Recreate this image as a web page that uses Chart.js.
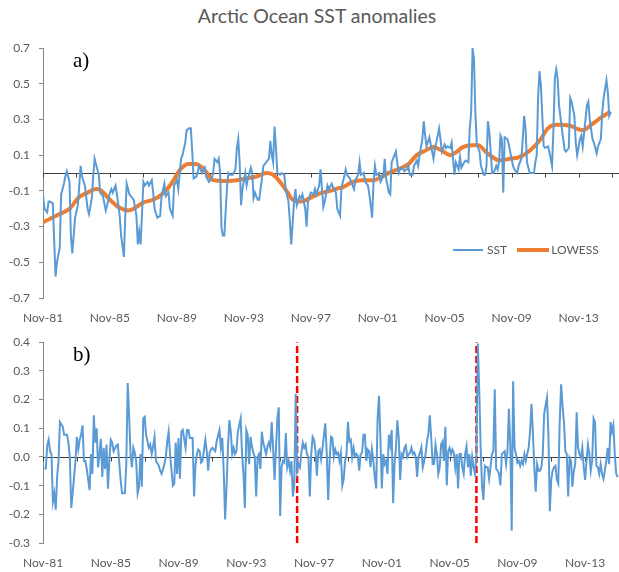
<!DOCTYPE html>
<html>
<head>
<meta charset="utf-8">
<script src="https://cdn.jsdelivr.net/npm/chart.js@4.4.1/dist/chart.umd.min.js"></script>
<style>
  body { margin: 0; background: #fff; }
  #wrap { position: relative; width: 619px; height: 572px; font-family: Lato, sans-serif; overflow: hidden; }
  canvas { position: absolute; left: 0; }
  #topChart { top: 0; }
  #bottomChart { top: 326px; }
  .title { position: absolute; top: 4px; left: 0; width: 634px; text-align: center; font-size: 19.5px; color: #595959; }
  .panel { position: absolute; left: 73px; font-family: 'Liberation Serif', serif; font-size: 21px; color: #000; }
  .legend { position: absolute; top: 241px; left: 453px; font-size: 12px; color: #595959; white-space: nowrap; }
  .legend span { display: inline-block; vertical-align: middle; }
  .swatch { width: 30px; margin-right: 4px; }
</style>
</head>
<body>
<div id="wrap">
  <div class="title">Arctic Ocean SST anomalies</div>
  <canvas id="topChart" width="619" height="326"></canvas>
  <canvas id="bottomChart" width="619" height="246"></canvas>
  <div class="panel" style="top:48px">a)</div>
  <div class="panel" style="top:342px">b)</div>
  <div class="legend">
    <span class="swatch" style="border-top:2px solid #5B9BD5"></span><span>SST</span>
    <span class="swatch" style="border-top:4px solid #ED7D31; margin-left:7px; width:32px; margin-right:2px"></span><span>LOWESS</span>
  </div>
</div>
<script>
// months counted from Nov-1981
const tickMonths = [0, 48, 96, 144, 192, 240, 288, 336, 384];
const tickLabels = ['Nov-81', 'Nov-85', 'Nov-89', 'Nov-93', 'Nov-97', 'Nov-01', 'Nov-05', 'Nov-09', 'Nov-13'];
const minorTicks = [0, 24, 48, 72, 96, 120, 144, 168, 192, 216, 240, 264, 288, 312, 336, 360, 384, 408];
const breakMonths = [180, 307];

// [month, anomaly]
const sst = [
  [0,-0.12],[1,-0.20],[3,-0.22],[4,-0.16],[5,-0.16],[7,-0.17],[9,-0.58],[10,-0.50],[12,-0.42],[13,-0.12],
  [15,-0.06],[16,-0.02],[17,0.01],[19,-0.05],[20,-0.35],[21,-0.45],[23,-0.25],[25,-0.18],[26,-0.07],[27,0.04],
  [28,-0.02],[30,-0.07],[32,-0.20],[33,-0.23],[35,-0.14],[36,-0.02],[37,0.08],[39,0.02],[40,-0.01],[41,-0.11],
  [43,-0.13],[45,-0.21],[46,-0.18],[48,-0.11],[49,-0.09],[50,-0.11],[52,-0.07],[53,-0.12],[55,-0.24],[56,-0.35],
  [58,-0.47],[59,-0.24],[60,-0.06],[62,-0.12],[64,-0.14],[65,-0.15],[67,-0.24],[68,-0.40],[69,-0.33],[70,-0.40],
  [72,-0.05],[73,-0.07],[75,-0.05],[76,-0.07],[78,-0.04],[79,-0.11],[80,-0.20],[82,-0.25],[84,-0.24],[85,-0.13],
  [87,-0.06],[88,-0.13],[90,-0.11],[91,-0.20],[93,-0.24],[94,-0.07],[96,-0.04],[97,-0.09],[99,0.08],[100,0.10],
  [102,0.17],[103,0.24],[105,0.25],[106,0.25],[107,0.12],[108,-0.03],[110,-0.02],[111,0.01],[112,0.04],[114,0.00],
  [116,0.03],[117,-0.02],[119,-0.05],[121,-0.03],[122,0.00],[123,0.08],[125,0.06],[126,0.08],[127,0.00],[128,-0.31],
  [129,-0.35],[130,-0.35],[132,-0.07],[133,0.00],[134,-0.01],[136,-0.01],[138,0.02],[139,0.14],[140,0.19],[141,0.06],
  [142,-0.18],[143,-0.09],[145,0.00],[146,-0.07],[147,-0.03],[149,0.03],[150,0.00],[151,-0.14],[152,-0.11],[154,-0.15],
  [155,-0.15],[157,-0.03],[158,0.04],[160,0.06],[162,0.08],[163,0.18],[164,0.10],[165,0.06],[166,0.26],[167,0.15],
  [168,0.00],[170,-0.01],[171,0.00],[173,-0.01],[174,-0.09],[176,-0.16],[177,-0.27],[178,-0.40],[180,-0.16],[181,-0.09],
  [182,-0.18],[184,-0.13],[185,-0.14],[186,-0.12],[188,-0.20],[189,-0.30],[190,-0.16],[192,-0.11],[194,-0.12],[195,-0.09],
  [196,-0.12],[198,-0.07],[199,0.02],[201,-0.19],[202,-0.16],[204,-0.07],[205,-0.09],[207,-0.06],[208,-0.08],[210,-0.11],
  [211,-0.20],[213,-0.24],[214,-0.08],[216,-0.02],[217,0.02],[218,-0.01],[220,-0.03],[221,-0.05],[223,-0.09],[224,-0.04],
  [226,-0.01],[227,0.06],[228,-0.01],[230,0.00],[231,-0.05],[233,-0.07],[234,-0.12],[236,-0.25],[237,-0.05],[238,0.04],
  [239,-0.01],[241,0.00],[242,-0.05],[244,-0.02],[245,0.08],[246,-0.03],[248,-0.11],[249,-0.12],[250,0.06],[252,0.10],
  [253,0.12],[255,0.00],[256,0.02],[258,0.03],[259,0.01],[261,0.02],[262,0.04],[263,-0.01],[265,-0.01],[266,0.04],
  [268,0.07],[269,0.04],[270,0.10],[272,0.19],[273,0.29],[274,0.21],[275,0.15],[277,0.20],[278,0.16],[280,0.08],
  [281,0.14],[282,0.17],[284,0.25],[285,0.19],[286,0.12],[288,0.16],[289,0.14],[290,0.15],[292,0.14],[293,0.17],
  [295,-0.01],[296,0.06],[298,0.02],[299,0.09],[300,0.03],[302,0.06],[303,0.07],[305,0.06],[306,0.25],[307,0.34],
  [308,0.70],[309,0.64],[310,0.34],[311,0.17],[312,0.14],[313,0.12],[314,0.04],[316,-0.01],[317,-0.01],[318,0.04],
  [319,0.29],[320,0.23],[321,0.12],[322,0.00],[323,0.00],[325,0.04],[326,0.02],[327,0.06],[328,0.21],[329,0.19],
  [330,-0.11],[331,0.20],[333,0.19],[334,0.16],[335,0.12],[337,0.04],[338,0.02],[340,0.00],[341,0.04],[343,0.08],
  [344,0.19],[345,0.32],[346,0.25],[347,0.06],[349,0.00],[350,0.00],[352,0.00],[353,0.06],[354,0.10],[355,0.43],
  [356,0.57],[357,0.49],[359,0.15],[360,0.14],[362,0.15],[363,0.12],[365,0.04],[366,0.25],[367,0.53],[368,0.58],
  [369,0.53],[370,0.38],[372,0.25],[373,0.19],[374,0.13],[375,0.12],[377,0.14],[378,0.42],[379,0.40],[381,0.32],
  [382,0.17],[383,0.10],[385,0.19],[386,0.21],[387,0.15],[389,0.30],[390,0.38],[391,0.40],[392,0.30],[394,0.19],
  [395,0.17],[396,0.14],[397,0.11],[398,0.15],[400,0.19],[401,0.34],[402,0.42],[404,0.52],[405,0.45],[406,0.32],
  [407,0.34]
];

const lowess = [
  [0,-0.275],[12,-0.23],[19,-0.20],[26,-0.135],[32,-0.11],[38,-0.09],[42,-0.10],[48,-0.15],[55,-0.195],[61,-0.21],
  [65,-0.20],[72,-0.165],[79,-0.15],[86,-0.115],[92,-0.06],[98,0.015],[104,0.05],[109,0.05],[115,0.025],[122,-0.04],
  [129,-0.045],[139,-0.04],[146,-0.03],[153,-0.02],[160,0.00],[165,-0.01],[170,-0.05],[175,-0.105],[179,-0.15],[184,-0.16],
  [189,-0.15],[194,-0.13],[198,-0.115],[206,-0.10],[212,-0.085],[215,-0.08],[222,-0.05],[229,-0.04],[237,-0.04],[243,-0.02],
  [249,0.005],[256,0.025],[262,0.05],[268,0.10],[274,0.125],[280,0.145],[286,0.125],[292,0.10],[296,0.115],[301,0.145],
  [308,0.155],[312,0.155],[318,0.115],[323,0.085],[327,0.07],[335,0.08],[342,0.09],[349,0.125],[356,0.18],[362,0.25],
  [368,0.27],[378,0.265],[382,0.25],[387,0.24],[394,0.275],[400,0.31],[407,0.345]
];

// panel b series
const panelB = [
  [1,-0.04],[2,-0.04],[3,0.04],[4,0.06],[5,0.02],[6,0.01],[7,-0.155],[8,-0.127],[9,-0.184],[10,-0.07],
  [11,-0.014],[12,0.122],[14,0.105],[15,0.077],[17,0.077],[18,0.05],[19,0],[20,-0.178],[21,-0.127],[23,-0.014],
  [24,0.07],[25,0.026],[26,0.06],[27,0.077],[28,0.11],[29,-0.014],[30,-0.014],[31,-0.042],[33,-0.116],[34,0.01],
  [35,-0.059],[36,0.145],[37,0.05],[38,0.10],[39,-0.036],[40,0.01],[41,0.063],[42,-0.07],[43,0.032],[44,-0.042],
  [45,0.043],[46,-0.111],[47,-0.014],[48,0.06],[49,0.05],[50,0.02],[52,0.04],[53,0.043],[54,-0.02],[55,-0.08],
  [56,-0.127],[58,-0.127],[59,-0.025],[60,0.258],[61,0.145],[62,0.01],[63,-0.036],[64,0.032],[65,0.015],[66,-0.014],
  [67,-0.127],[68,-0.104],[69,0.01],[70,-0.104],[71,0.134],[72,0.14],[73,0.077],[75,0.032],[76,0.043],[77,0.01],
  [78,0.037],[79,0.07],[80,-0.014],[82,-0.03],[83,-0.048],[84,-0.059],[86,-0.025],[87,0],[88,0.054],[89,0.088],
  [90,0.01],[92,-0.10],[93,-0.093],[94,0.05],[95,-0.059],[96,0.066],[97,-0.076],[98,0.088],[99,0.094],[101,0.032],
  [102,0.094],[103,0.094],[104,0.066],[106,0.066],[107,-0.138],[108,-0.03],[109,0.01],[110,0.026],[111,0.02],[112,-0.02],
  [113,-0.014],[115,0.06],[116,0.02],[117,-0.048],[118,0.015],[119,0.026],[120,0.032],[122,0.02],[123,0.054],[125,0.094],
  [126,0.032],[127,0.066],[128,-0.048],[129,-0.218],[130,-0.104],[131,0.032],[132,0.128],[133,0.088],[134,0.01],[135,0.032],
  [136,0.01],[137,0.02],[138,0.088],[140,0.134],[141,0.01],[142,-0.059],[143,-0.178],[144,0.094],[145,0.077],[146,-0.025],
  [147,0.07],[148,0.037],[149,0.015],[150,0],[151,-0.138],[152,0],[153,0.01],[154,-0.042],[155,0.088],[156,0.05],
  [158,0.01],[159,0.037],[160,0.05],[161,0.032],[162,0.122],[163,0.032],[164,-0.08],[166,0.134],[167,0.173],[168,-0.206],
  [169,-0.036],[170,-0.014],[171,-0.02],[172,0.083],[173,-0.036],[174,-0.014],[175,-0.048],[176,-0.014],[177,-0.138],[178,-0.093],
  [179,0.22],[180,-0.048],[181,-0.025],[182,-0.036],[183,0.015],[184,0.05],[185,0.032],[186,0.043],[187,0.01],[188,0],
  [189,-0.138],[190,0.01],[191,0.07],[192,0.06],[193,0.02],[194,-0.065],[195,0.02],[196,0.026],[197,-0.008],[198,0.032],
  [199,0.077],[200,0.117],[201,0.01],[202,-0.15],[203,-0.014],[204,0.07],[205,0.066],[206,0],[207,0.026],[208,0.01],
  [209,0.015],[210,-0.014],[211,0.015],[212,-0.099],[213,-0.076],[214,-0.014],[215,0.01],[216,0.122],[217,0.054],[218,0.06],
  [219,0],[220,0.032],[221,0.003],[222,0.01],[223,0.003],[224,-0.048],[225,0.01],[226,0.015],[227,0.077],[228,0.077],
  [229,-0.014],[230,0.026],[231,0.02],[232,-0.036],[233,0.026],[234,-0.014],[235,-0.07],[236,-0.11],[237,0.134],[238,0.213],
  [239,0.066],[240,-0.11],[241,0.01],[242,-0.025],[243,-0.014],[244,-0.059],[245,0.077],[246,0.043],[247,0.094],[248,-0.161],
  [249,-0.025],[250,0.032],[251,0.128],[252,0.066],[253,-0.08],[254,0.01],[255,0],[256,0.032],[257,0.04],[258,0],
  [259,0.01],[260,0.015],[261,0.032],[262,0.01],[263,0.015],[264,0],[265,-0.07],[266,0],[267,0.015],[268,0.034],
  [269,-0.036],[270,-0.014],[271,0.01],[272,0.054],[273,0.083],[274,0.145],[275,0.066],[276,-0.025],[277,-0.025],[278,0.043],
  [279,0.01],[280,-0.059],[281,-0.036],[282,0.043],[283,0.054],[284,-0.014],[285,0.105],[286,-0.099],[287,0.02],[288,0.032],
  [289,0.01],[290,0.026],[291,0.015],[292,-0.036],[293,0.01],[294,-0.11],[295,0.01],[296,0.01],[297,-0.036],[298,-0.059],
  [299,0.01],[300,0.037],[301,-0.036],[302,0.01],[303,-0.065],[304,0],[305,-0.036],[306,-0.059],[307,0.01],[308,0.395],
  [309,0.236],[310,0.032],[311,-0.104],[312,-0.15],[313,-0.031],[314,-0.036],[315,-0.036],[316,-0.076],[317,-0.036],[318,0.01],
  [319,0.02],[320,0.236],[321,-0.042],[322,-0.048],[323,-0.059],[324,-0.099],[325,0.01],[326,0.015],[327,0.02],[328,-0.025],
  [329,0.02],[330,0.168],[331,0.043],[332,-0.257],[333,0.264],[334,0.032],[335,0.01],[336,-0.02],[337,-0.014],[338,-0.031],
  [339,-0.014],[340,-0.025],[341,0.01],[342,-0.014],[343,0.01],[344,0.032],[345,0.088],[346,0.185],[347,0.088],[348,-0.036],
  [349,-0.121],[350,-0.025],[351,-0.048],[352,-0.048],[353,-0.036],[354,0.01],[355,0.15],[356,0.18],[357,0.207],[358,0.077],
  [359,-0.189],[360,-0.08],[361,-0.048],[362,-0.036],[363,-0.031],[364,-0.08],[365,-0.093],[366,0.122],[367,0.253],[368,0.179],
  [369,0.122],[370,0.02],[371,0.01],[372,-0.138],[373,-0.003],[374,-0.014],[375,-0.104],[376,-0.048],[377,-0.025],[378,0.156],
  [379,0.032],[380,0.01],[381,-0.003],[382,0.032],[383,-0.036],[384,-0.08],[385,-0.014],[386,0.043],[387,0.01],[388,-0.048],
  [389,-0.014],[390,0.134],[391,0.122],[392,-0.031],[393,-0.036],[394,-0.059],[395,-0.025],[396,-0.059],[397,-0.076],[398,-0.048],
  [399,-0.014],[400,0.032],[401,-0.025],[402,0.122],[403,0.088],[404,0.111],[405,0.01],[406,-0.059],[407,-0.07]
];

const grey = '#595959';
const axisGrey = '#868686';
const font = { family: 'Lato', size: 12 };

// horizontal zero axis with small tick marks, drawn under the series
const zeroAxis = {
  id: 'zeroAxis',
  beforeDatasetsDraw(chart) {
    const { ctx, chartArea, scales: { x, y } } = chart;
    const y0 = Math.round(y.getPixelForValue(0)) + 0.5;
    ctx.save();
    ctx.strokeStyle = '#404040';
    ctx.lineWidth = 1;
    ctx.beginPath();
    ctx.moveTo(chartArea.left, y0);
    ctx.lineTo(chartArea.right, y0);
    minorTicks.forEach(m => {
      if (m > x.max) return;
      const px = Math.round(x.getPixelForValue(m)) + 0.5;
      ctx.moveTo(px, y0);
      ctx.lineTo(px, y0 + 4);
    });
    ctx.stroke();
    ctx.restore();
  }
};

const pts = arr => arr.map(([m, v]) => ({ x: m, y: v }));

function panel(canvas, datasets, yMin, yMax, step, xMax, padTop, xHeight) {
  return new Chart(canvas, {
    type: 'line',
    data: { datasets },
    plugins: [zeroAxis],
    options: {
      responsive: false,
      animation: false,
      devicePixelRatio: 1,
      layout: { padding: { top: padTop, right: 0, left: 0, bottom: 0 } },
      elements: { point: { radius: 0 } },
      plugins: { legend: { display: false }, tooltip: { enabled: false } },
      scales: {
        x: {
          type: 'linear', min: 0, max: xMax,
          grid: { display: false, drawTicks: false },
          border: { display: false },
          afterBuildTicks: s => { s.ticks = tickMonths.map(v => ({ value: v })); },
          afterFit: s => { s.height = xHeight; },
          ticks: {
            autoSkip: false, maxRotation: 0, padding: 13, color: grey, font,
            callback: v => tickLabels[tickMonths.indexOf(v)]
          }
        },
        y: {
          min: yMin, max: yMax,
          afterFit: s => { s.width = 43; },
          grid: { drawOnChartArea: false, tickLength: 4, color: axisGrey },
          border: { color: axisGrey },
          ticks: {
            stepSize: step, padding: 9, color: grey, font,
            callback: v => (Math.abs(v) < 1e-9 ? 0 : v).toFixed(1)
          }
        }
      }
    }
  });
}

panel(document.getElementById('topChart'), [
  { data: pts(sst), borderColor: '#5B9BD5', borderWidth: 2, tension: 0 },
  { data: pts(lowess), borderColor: '#ED7D31', borderWidth: 4, cubicInterpolationMode: 'monotone' }
], -0.7, 0.7, 0.2, 413, 48, 28);

panel(document.getElementById('bottomChart'), [
  { data: pts(panelB), borderColor: '#5B9BD5', borderWidth: 2, tension: 0 },
  ...breakMonths.map(m => ({
    data: [{ x: m, y: -0.3 }, { x: m, y: 0.4 }],
    borderColor: '#FF0000', borderWidth: 2.5, borderDash: [7, 3]
  }))
], -0.3, 0.4, 0.1, 408, 12, 29);
</script>
</body>
</html>
